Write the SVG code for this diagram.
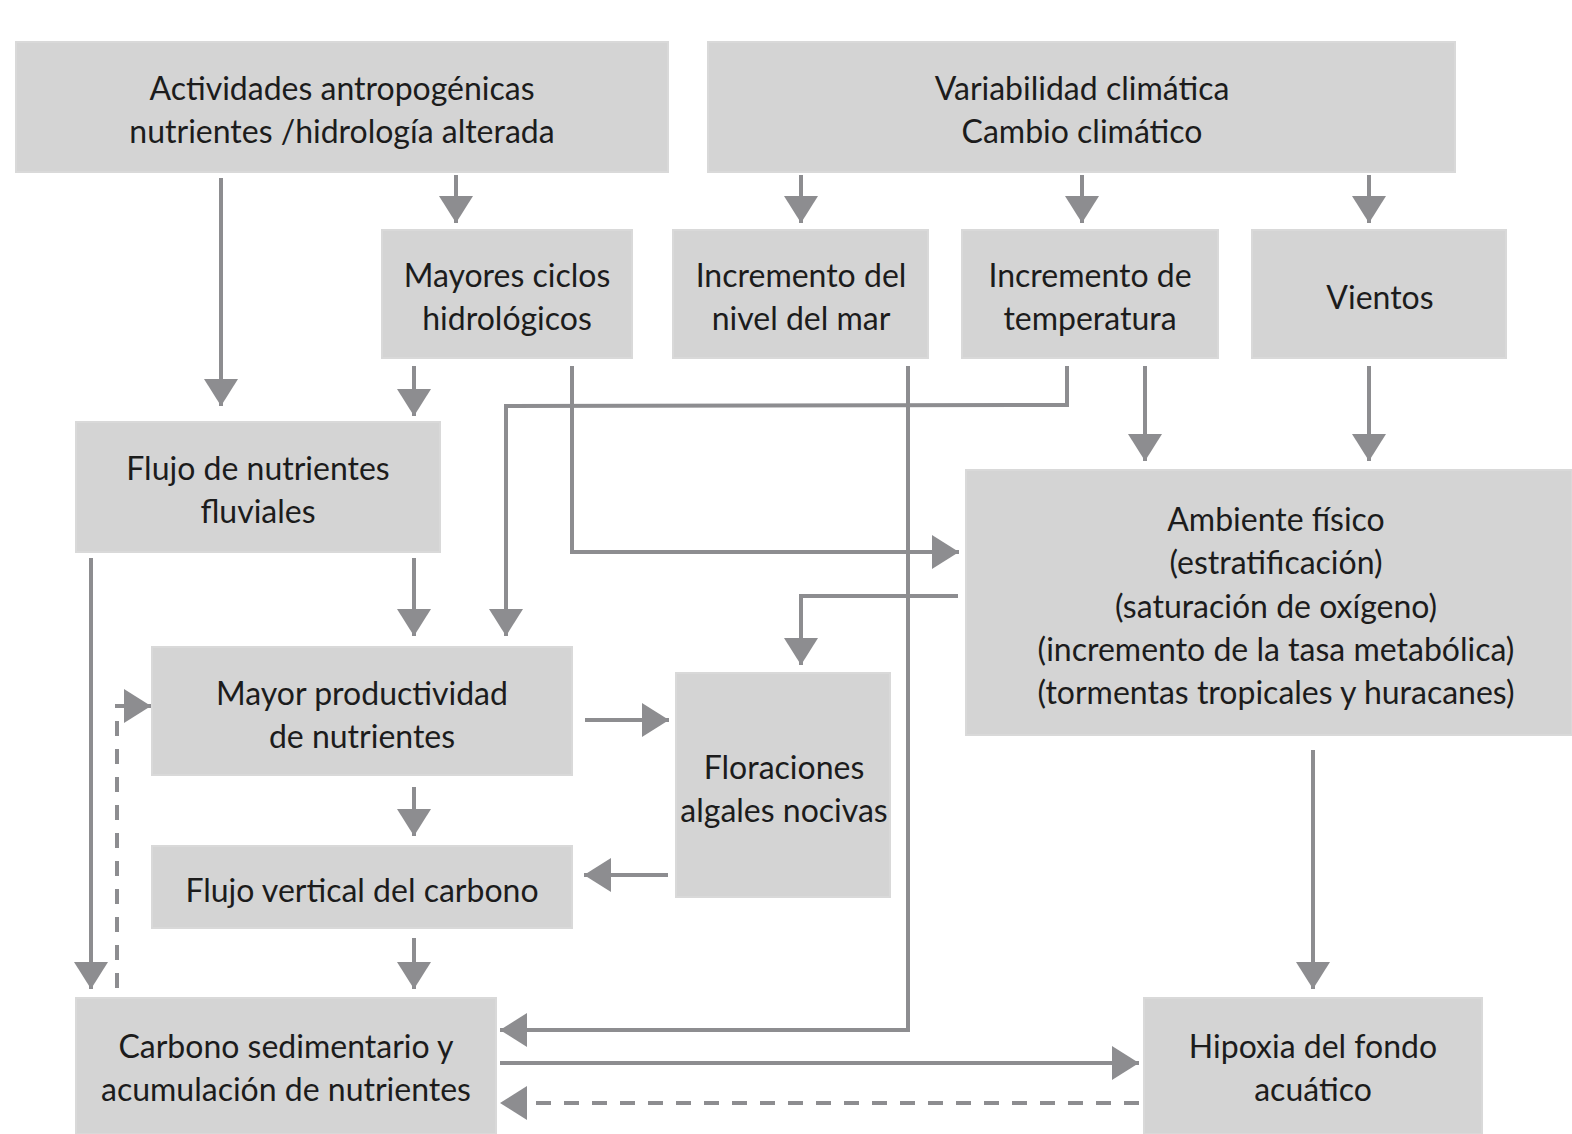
<svg xmlns="http://www.w3.org/2000/svg" width="1572" height="1134" viewBox="0 0 1572 1134">
  <style>
    .box { fill: #d4d4d4; stroke: #d9d9d9; stroke-width: 2; }
    .lbl { font-family: Lato, "Open Sans", "Liberation Sans", sans-serif; font-size: 32px; fill: #1c1c1c; text-anchor: middle; }
    .wire { fill: none; stroke: #8d8d90; stroke-width: 4; }
    .dash { stroke-dasharray: 15 13; }
  </style>
  <defs>
    <marker id="head" markerUnits="userSpaceOnUse" markerWidth="28" markerHeight="34" refX="27" refY="17" orient="auto">
      <path d="M0,0 L27,17 L0,34 Z" fill="#8d8d90"/>
    </marker>
  </defs>
  <rect width="1572" height="1134" fill="#ffffff"/>

  <g id="actividades">
    <rect class="box" x="16" y="42" width="652" height="130"/>
    <text class="lbl" x="342" y="100">Actividades antropogénicas</text>
    <text class="lbl" x="342" y="143">nutrientes /hidrología alterada</text>
  </g>
  <g id="variabilidad">
    <rect class="box" x="708" y="42" width="747" height="130"/>
    <text class="lbl" x="1082" y="100">Variabilidad climática</text>
    <text class="lbl" x="1082" y="143">Cambio climático</text>
  </g>
  <g id="ciclos">
    <rect class="box" x="382" y="230" width="250" height="128"/>
    <text class="lbl" x="507" y="287">Mayores ciclos</text>
    <text class="lbl" x="507" y="330">hidrológicos</text>
  </g>
  <g id="nivel-mar">
    <rect class="box" x="673" y="230" width="255" height="128"/>
    <text class="lbl" x="801" y="287">Incremento del</text>
    <text class="lbl" x="801" y="330">nivel del mar</text>
  </g>
  <g id="temperatura">
    <rect class="box" x="962" y="230" width="256" height="128"/>
    <text class="lbl" x="1090" y="287">Incremento de</text>
    <text class="lbl" x="1090" y="330">temperatura</text>
  </g>
  <g id="vientos">
    <rect class="box" x="1252" y="230" width="254" height="128"/>
    <text class="lbl" x="1380" y="309">Vientos</text>
  </g>
  <g id="flujo-nutrientes">
    <rect class="box" x="76" y="422" width="364" height="130"/>
    <text class="lbl" x="258" y="480">Flujo de nutrientes</text>
    <text class="lbl" x="258" y="523">fluviales</text>
  </g>
  <g id="ambiente">
    <rect class="box" x="966" y="470" width="606" height="265"/>
    <text class="lbl" x="1276" y="531">Ambiente físico</text>
    <text class="lbl" x="1276" y="574">(estratificación)</text>
    <text class="lbl" x="1276" y="618">(saturación de oxígeno)</text>
    <text class="lbl" x="1276" y="661">(incremento de la tasa metabólica)</text>
    <text class="lbl" x="1276" y="704">(tormentas tropicales y huracanes)</text>
  </g>
  <g id="productividad">
    <rect class="box" x="152" y="647" width="420" height="128"/>
    <text class="lbl" x="362" y="705">Mayor productividad</text>
    <text class="lbl" x="362" y="748">de nutrientes</text>
  </g>
  <g id="floraciones">
    <rect class="box" x="676" y="673" width="214" height="224"/>
    <text class="lbl" x="784" y="779">Floraciones</text>
    <text class="lbl" x="784" y="822">algales nocivas</text>
  </g>
  <g id="flujo-vertical">
    <rect class="box" x="152" y="846" width="420" height="82"/>
    <text class="lbl" x="362" y="902">Flujo vertical del carbono</text>
  </g>
  <g id="carbono">
    <rect class="box" x="76" y="998" width="420" height="136"/>
    <text class="lbl" x="286" y="1058">Carbono sedimentario y</text>
    <text class="lbl" x="286" y="1101">acumulación de nutrientes</text>
  </g>
  <g id="hipoxia">
    <rect class="box" x="1144" y="998" width="338" height="136"/>
    <text class="lbl" x="1313" y="1058">Hipoxia del fondo</text>
    <text class="lbl" x="1313" y="1101">acuático</text>
  </g>

  <g id="connectors">
    <line class="wire" x1="221" y1="178" x2="221" y2="406" marker-end="url(#head)"/>
    <line class="wire" x1="456" y1="175" x2="456" y2="223" marker-end="url(#head)"/>
    <line class="wire" x1="801" y1="175" x2="801" y2="223" marker-end="url(#head)"/>
    <line class="wire" x1="1082" y1="175" x2="1082" y2="223" marker-end="url(#head)"/>
    <line class="wire" x1="1369" y1="175" x2="1369" y2="223" marker-end="url(#head)"/>
    <line class="wire" x1="414" y1="366" x2="414" y2="416" marker-end="url(#head)"/>
    <polyline class="wire" points="1067,366 1067,405 506,406 506,636" marker-end="url(#head)"/>
    <polyline class="wire" points="572,366 572,552 959,552" marker-end="url(#head)"/>
    <line class="wire" x1="1145" y1="366" x2="1145" y2="461" marker-end="url(#head)"/>
    <line class="wire" x1="1369" y1="366" x2="1369" y2="461" marker-end="url(#head)"/>
    <polyline class="wire" points="908,366 908,1030 500,1030" marker-end="url(#head)"/>
    <line class="wire" x1="414" y1="558" x2="414" y2="636" marker-end="url(#head)"/>
    <line class="wire" x1="91" y1="558" x2="91" y2="989" marker-end="url(#head)"/>
    <polyline class="wire" points="958,596 801,596 801,665" marker-end="url(#head)"/>
    <line class="wire" x1="585" y1="720" x2="669" y2="720" marker-end="url(#head)"/>
    <line class="wire" x1="668" y1="875" x2="584" y2="875" marker-end="url(#head)"/>
    <line class="wire" x1="414" y1="787" x2="414" y2="836" marker-end="url(#head)"/>
    <line class="wire" x1="414" y1="938" x2="414" y2="989" marker-end="url(#head)"/>
    <polyline class="wire dash" points="117,988 117,706 151,706" marker-end="url(#head)"/>
    <line class="wire" x1="500" y1="1063" x2="1139" y2="1063" marker-end="url(#head)"/>
    <line class="wire dash" x1="1139" y1="1103" x2="500" y2="1103" marker-end="url(#head)"/>
    <line class="wire" x1="1313" y1="750" x2="1313" y2="989" marker-end="url(#head)"/>
  </g>
</svg>
